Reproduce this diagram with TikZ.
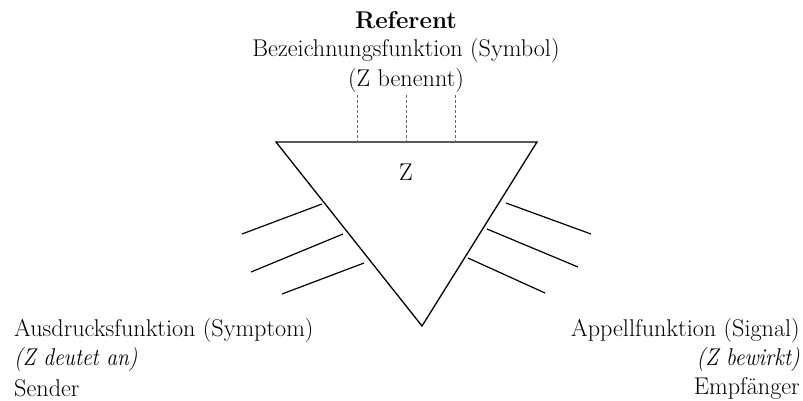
\documentclass[tikz,border=0pt]{standalone}
\begin{document}
\begin{tikzpicture}[x=1pt,y=-1pt,
  lbl/.style={font=\fontsize{24.2}{28}\selectfont, inner sep=0pt},
  edge/.style={line width=1.3pt, black},
  ray/.style={line width=1.2pt, black},
  tick/.style={line width=0.5pt, densely dashed, black!60}]
\useasboundingbox (0,0) rectangle (803,400);
% triangle
\coordinate (tl) at (276,142);
\coordinate (tr) at (537,142);
\coordinate (bt) at (422,326);
\draw[edge, line join=miter] (tl) -- (tr) -- (bt) -- cycle;
% top ticks
\coordinate (t1a) at (357,95); \coordinate (t1b) at (357,142);
\coordinate (t2a) at (406,95); \coordinate (t2b) at (406,142);
\coordinate (t3a) at (455,95); \coordinate (t3b) at (455,142);
\draw[tick] (t1a) -- (t1b);
\draw[tick] (t2a) -- (t2b);
\draw[tick] (t3a) -- (t3b);
% left rays
\coordinate (l1a) at (322,204); \coordinate (l1b) at (242,234);
\coordinate (l2a) at (343,234); \coordinate (l2b) at (251,272);
\coordinate (l3a) at (364,263); \coordinate (l3b) at (282,294);
\draw[ray] (l1a) -- (l1b);
\draw[ray] (l2a) -- (l2b);
\draw[ray] (l3a) -- (l3b);
% right rays
\coordinate (r1a) at (506,203); \coordinate (r1b) at (591,234);
\coordinate (r2a) at (487,229); \coordinate (r2b) at (578,267);
\coordinate (r3a) at (468,258); \coordinate (r3b) at (545,293);
\draw[ray] (r1a) -- (r1b);
\draw[ray] (r2a) -- (r2b);
\draw[ray] (r3a) -- (r3b);
% texts
\node[lbl, font=\fontsize{24.2}{28}\selectfont\bfseries] (ref) at (406,20) {Referent};
\node[lbl] (bez) at (406,50) {Bezeichnungsfunktion (Symbol)};
\node[lbl] (ben) at (406,80) {(Z benennt)};
\node[lbl] (z) at (406,172) {Z};
\node[lbl, anchor=west] (aus) at (14,330) {Ausdrucksfunktion (Symptom)};
\node[lbl, anchor=west] (deu) at (14,359) {\scalebox{0.89}[1]{\itshape (Z deutet an)}};
\node[lbl, anchor=west] (sen) at (14,388) {Sender};
\node[lbl, anchor=east] (app) at (800,330) {Appellfunktion (Signal)};
\node[lbl, anchor=east] (bew) at (800,359) {\scalebox{0.9}[1]{\itshape (Z bewirkt)}};
\node[lbl, anchor=east] (emp) at (800,388) {Empf\"anger};
\end{tikzpicture}
\end{document}
